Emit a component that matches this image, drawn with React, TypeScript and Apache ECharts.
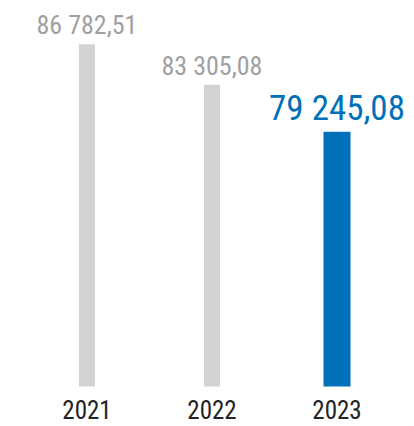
import React, { useEffect, useRef } from "react";
import * as echarts from "echarts";

const categories = ["2021", "2022", "2023"];
const previousValues: (number | string)[] = [86782.51, 83305.08, "-"];
const currentValues: (number | string)[] = ["-", "-", 79245.08];

const FONT = "'Roboto Condensed', 'Liberation Sans Narrow', 'DejaVu Sans Condensed', Roboto, sans-serif";

function fmt(v: number): string {
  const [i, d] = v.toFixed(2).split(".");
  return i.replace(/\B(?=(\d{3})+(?!\d))/g, " ") + "," + d;
}

export default function App() {
  const ref = useRef<HTMLDivElement>(null);
  useEffect(() => {
    document.body.style.margin = "0";
    const chart = echarts.init(ref.current!, undefined, { renderer: "svg" });
    chart.setOption({
      animation: false,
      grid: { left: 24.5, right: 14.5, top: 7, bottom: 39.5 },
      xAxis: [
        {
          type: "category",
          data: categories,
          axisLine: { show: false },
          axisTick: { show: false },
          axisLabel: { color: "#222222", fontSize: 25, fontFamily: FONT, margin: 11 },
        },
        {
          type: "category",
          data: categories,
          show: false,
        },
      ],
      yAxis: {
        type: "value",
        min: 57300,
        max: 90000,
        show: false,
        splitLine: { show: false },
      },
      series: [
        {
          type: "bar",
          xAxisIndex: 0,
          data: previousValues,
          barWidth: 16,
          itemStyle: { color: "#d3d3d3" },
          label: {
            show: true,
            position: "top",
            distance: 6,
            color: "#a0a0a0",
            fontSize: 26,
            fontFamily: FONT,
            formatter: (p: any) => fmt(p.value),
          },
        },
        {
          type: "bar",
          xAxisIndex: 1,
          data: currentValues,
          barWidth: 27,
          itemStyle: { color: "#0070b8" },
          label: {
            show: true,
            position: "top",
            distance: 6,
            color: "#0070b8",
            fontSize: 35,
            fontFamily: FONT,
            formatter: (p: any) => fmt(p.value),
          },
        },
      ],
    });
    return () => chart.dispose();
  }, []);
  return <div ref={ref} style={{ width: 414, height: 426 }} />;
}
